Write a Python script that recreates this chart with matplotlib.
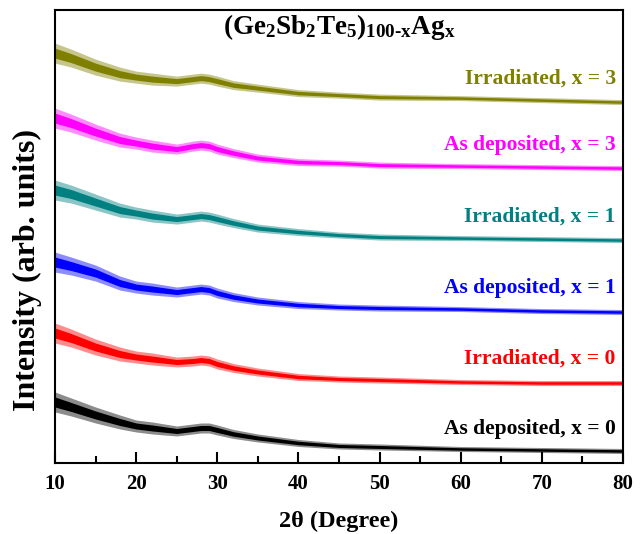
import numpy as np
import matplotlib.pyplot as plt

plt.rcParams['font.family'] = 'Liberation Serif'
plt.rcParams['font.weight'] = 'bold'
plt.rcParams['mathtext.fontset'] = 'custom'
plt.rcParams['mathtext.rm'] = 'Liberation Serif:bold'
plt.rcParams['mathtext.it'] = 'Liberation Serif:bold'
plt.rcParams['mathtext.bf'] = 'Liberation Serif:bold'

# 2theta positions where the traces were read
two_theta = [10, 12, 15, 18, 20, 22, 25, 27, 28, 29, 30, 32, 35, 40, 45, 50, 60, 70, 80]

# trace centre (arb. units, offset stacked)
as_dep_0 = [61, 56, 48, 41, 37, 35, 32, 34, 35, 35, 33, 29, 25, 20, 17, 16, 14, 13, 12]
irr_0 = [130, 125, 116, 109, 106, 104, 101, 102, 103, 102, 99, 95, 91, 86, 84, 83, 81, 80, 80]
as_dep_1 = [201, 197, 190, 180, 176, 174, 171, 173, 174, 173, 170, 166, 162, 158, 156, 155, 154, 152, 151]
irr_1 = [273, 269, 261, 253, 250, 247, 244, 246, 247, 246, 244, 240, 235, 231, 228, 226, 225, 224, 223]
as_dep_3 = [345, 340, 331, 323, 320, 317, 314, 317, 318, 317, 314, 310, 305, 301, 300, 298, 297, 296, 295]
irr_3 = [410, 405, 396, 389, 386, 384, 382, 384, 385, 384, 382, 378, 375, 370, 368, 366, 365, 363, 361]

# half width of the noise band at each position
noise = [10, 9, 8, 7, 6, 6, 5, 5, 5, 5, 5, 4.5, 4, 3.5, 3, 3, 2.5, 2.5, 2.5]

labels = ['As deposited, x = 0', 'Irradiated, x = 0', 'As deposited, x = 1',
          'Irradiated, x = 1', 'As deposited, x = 3', 'Irradiated, x = 3']
colors = ['black', '#ff0000', '#0000ff', '#008080', '#ff00ff', '#808000']
label_y = [34, 104, 175, 246, 318, 385]
series = [as_dep_0, irr_0, as_dep_1, irr_1, as_dep_3, irr_3]

fig = plt.figure(figsize=(6.44, 5.34), dpi=100)
ax = fig.add_axes([0.0854, 0.133, 0.882, 0.848])

x = np.array(two_theta)
hw = np.array(noise)
for y, c, lab, ly in zip(series, colors, labels, label_y):
    y = np.array(y)
    ax.fill_between(x, y - hw, y + hw, color=c, alpha=0.45, lw=0)
    ax.fill_between(x, y - hw * 0.5, y + hw * 0.5, color=c, lw=0)
    ax.text(79.1, ly, lab, color=c, fontsize=15.5, fontweight='bold',
            ha='right', va='center')

ax.text(45, 436, r'$\mathrm{(Ge_2Sb_2Te_5)_{100\text{-}x}Ag_x}$', fontsize=19.5,
        ha='center', va='center')

ax.set_xlim(10, 80)
ax.set_ylim(0, 453)
ax.set_xticks(range(10, 81, 10))
ax.set_xticks(range(15, 80, 10), minor=True)
ax.set_yticks([])
ax.tick_params(axis='x', which='major', direction='in', length=8, width=1.5,
               labelsize=15, pad=8)
ax.tick_params(axis='x', which='minor', direction='in', length=5, width=1.5)
for lbl in ax.get_xticklabels():
    lbl.set_fontweight('bold')
for s in ax.spines.values():
    s.set_linewidth(1.5)

ax.set_xlabel('2θ (Degree)', fontsize=17.5, fontweight='bold', va='center')
ax.xaxis.set_label_coords(0.5, -0.13)
ax.set_ylabel('Intensity (arb. units)', fontsize=23, fontweight='bold', va='center')
ax.yaxis.set_label_coords(-0.048, 0.426)

plt.savefig('out.png', dpi=100)
